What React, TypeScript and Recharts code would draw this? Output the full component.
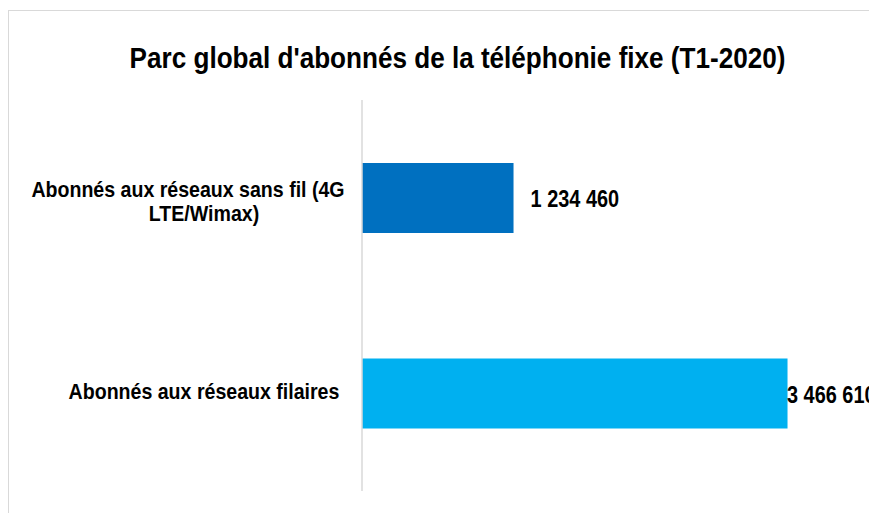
import { BarChart, Bar, XAxis, YAxis, Cell, LabelList } from "recharts";

const categories = [
  "Abonnés aux réseaux sans fil (4G\nLTE/Wimax)",
  "Abonnés aux réseaux filaires",
];
const subscribers = [1234460, 3466610];
const barColors = ["#0070C0", "#00B0F0"];
const title = "Parc global d'abonnés de la téléphonie fixe (T1-2020)";

const data = categories.map((name, i) => ({ name, value: subscribers[i] }));

const FONT = "'Liberation Sans', Arial, sans-serif";
// the reference text is horizontally condensed
const SQUEEZE = 0.83;
const TITLE_SQUEEZE = 0.87;
const TICK_SQUEEZE = 0.87;

const fmt = (v: number) => String(v).replace(/\B(?=(\d{3})+(?!\d))/g, " ");

function CategoryTick({ y, payload }: any) {
  const lines = String(payload.value).split("\n");
  const multi = lines.length > 1;
  const first = multi ? y - 1 : y + 6;
  return (
    <g>
      {lines.map((line, i) => (
        <text
          key={i}
          transform={`translate(${multi && i === 0 ? 188 : 204},${first + i * 24}) scale(${TICK_SQUEEZE},1)`}
          textAnchor="middle"
          fontFamily={FONT}
          fontWeight="bold"
          fontSize={22.5}
          fill="#000"
        >
          {line}
        </text>
      ))}
    </g>
  );
}

function ValueLabel({ x, y, width, height, value }: any) {
  const labelW = 86;
  const rightLimit = 873;
  const tx = Math.min(x + width + 17, rightLimit - labelW);
  return (
    <text
      transform={`translate(${tx},${y + height / 2 + 9}) scale(${SQUEEZE},1)`}
      fontFamily={FONT}
      fontWeight="bold"
      fontSize={24}
      fill="#000"
    >
      {fmt(value)}
    </text>
  );
}

export default function App() {
  return (
    <div
      style={{
        position: "fixed",
        left: 0,
        top: 0,
        width: 869,
        height: 513,
        overflow: "hidden",
        background: "#fff",
      }}
    >
      {/* chart frame, cut off on the right and bottom like the reference */}
      <div
        style={{
          position: "absolute",
          left: 8,
          top: 10,
          width: 920,
          height: 600,
          border: "1px solid #d9d9d9",
          boxSizing: "border-box",
        }}
      />

      <svg
        width={869}
        height={120}
        style={{ position: "absolute", left: 0, top: 0 }}
      >
        <text
          transform={`translate(457.5,68) scale(${TITLE_SQUEEZE},1)`}
          textAnchor="middle"
          fontFamily={FONT}
          fontWeight="bold"
          fontSize={30}
          fill="#000"
        >
          {title}
        </text>
      </svg>

      <div style={{ position: "absolute", left: 0, top: 0 }}>
        <BarChart
          width={900}
          height={513}
          data={data}
          layout="vertical"
          margin={{ top: 100, right: 47, bottom: 22, left: 0 }}
        >
          <XAxis type="number" domain={[0, 4000000]} hide />
          <YAxis
            type="category"
            dataKey="name"
            width={362}
            axisLine={{ stroke: "#d9d9d9", strokeWidth: 1.5 }}
            tickLine={false}
            tick={<CategoryTick />}
            interval={0}
          />
          <Bar dataKey="value" barSize={70} isAnimationActive={false}>
            {data.map((d, i) => (
              <Cell key={d.name} fill={barColors[i]} />
            ))}
            <LabelList dataKey="value" content={<ValueLabel />} />
          </Bar>
        </BarChart>
      </div>
    </div>
  );
}
